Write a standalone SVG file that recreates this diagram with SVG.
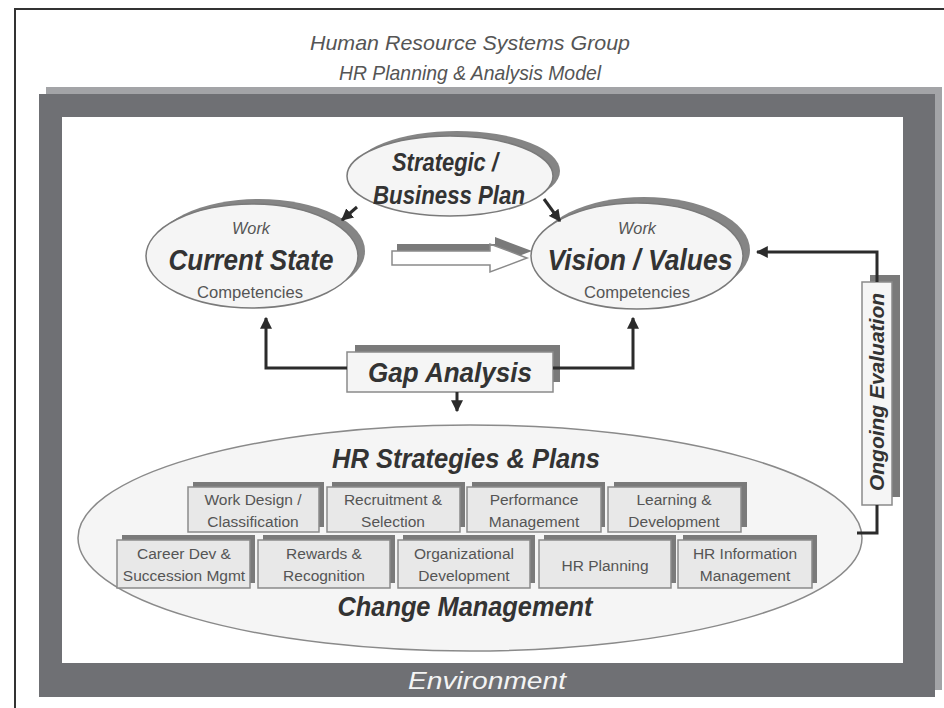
<svg xmlns="http://www.w3.org/2000/svg" width="944" height="708" viewBox="0 0 944 708">
<defs>
<marker id="ah" viewBox="0 0 10 10" refX="9" refY="5" markerWidth="4" markerHeight="4" orient="auto" markerUnits="strokeWidth">
<path d="M0,0 L10,5 L0,10 z" fill="#2b2b2b"/>
</marker>
<style>
.ttl{font-family:"Liberation Sans",Arial,sans-serif;font-style:italic;font-size:21px;fill:#555;text-anchor:middle}
.big{font-family:"Liberation Sans",Arial,sans-serif;font-style:italic;font-weight:bold;fill:#333;text-anchor:middle}
.sm{font-family:"Liberation Sans",Arial,sans-serif;font-size:16px;fill:#555;text-anchor:middle}
.wk{font-family:"Liberation Sans",Arial,sans-serif;font-style:italic;font-size:16px;fill:#555;text-anchor:middle}
.ell{fill:#f5f5f5;stroke:#7a7a7a;stroke-width:1.5}
.esh{fill:#858585}
.box{fill:#e8e8e8;stroke:#8a8a8a;stroke-width:1.5}
.bsh{fill:#7a7a7a}
.bt{font-family:"Liberation Sans",Arial,sans-serif;font-size:15.5px;fill:#555;text-anchor:middle}
.con{fill:none;stroke:#2b2b2b;stroke-width:3}
</style>
</defs>
<rect width="944" height="708" fill="#ffffff"/>
<path d="M15,708 L15,9 L944,9" fill="none" stroke="#333" stroke-width="2"/>
<text class="ttl" x="470" y="50" textLength="320" lengthAdjust="spacingAndGlyphs">Human Resource Systems Group</text>
<text class="ttl" x="470" y="80" textLength="262" lengthAdjust="spacingAndGlyphs">HR Planning &amp; Analysis Model</text>

<g id="environment">
<rect x="46" y="87" width="896" height="603" fill="#a3a4a7"/>
<rect x="39" y="94" width="896" height="603" fill="#6f7074"/>
<rect x="62" y="117" width="841" height="546" fill="#ffffff"/>
<text class="big" x="487" y="689" font-size="24" style="fill:#f4f4f4;font-weight:normal" textLength="158" lengthAdjust="spacingAndGlyphs">Environment</text>
</g>

<g id="strategic">
<ellipse class="esh" cx="457" cy="171" rx="103" ry="40"/>
<ellipse class="ell" cx="450" cy="176" rx="103" ry="40"/>
<text class="big" x="445" y="171" font-size="26" textLength="106" lengthAdjust="spacingAndGlyphs">Strategic /</text>
<text class="big" x="449" y="204" font-size="26" textLength="152" lengthAdjust="spacingAndGlyphs">Business Plan</text>
</g>

<g id="current">
<ellipse class="esh" cx="259" cy="251" rx="106" ry="52"/>
<ellipse class="ell" cx="252" cy="256" rx="106" ry="52"/>
<text class="wk" x="251" y="234" textLength="38" lengthAdjust="spacingAndGlyphs">Work</text>
<text class="big" x="251" y="270" font-size="29" textLength="165" lengthAdjust="spacingAndGlyphs">Current State</text>
<text class="sm" x="250" y="298" font-size="17" textLength="106" lengthAdjust="spacingAndGlyphs">Competencies</text>
</g>

<g id="vision">
<ellipse class="esh" cx="644" cy="250" rx="106" ry="53"/>
<ellipse class="ell" cx="637" cy="256" rx="106" ry="53"/>
<text class="wk" x="637" y="234" textLength="38" lengthAdjust="spacingAndGlyphs">Work</text>
<text class="big" x="640" y="270" font-size="29" textLength="185" lengthAdjust="spacingAndGlyphs">Vision / Values</text>
<text class="sm" x="637" y="298" font-size="17" textLength="106" lengthAdjust="spacingAndGlyphs">Competencies</text>
</g>

<g id="transition-arrow">
<polygon points="397,244 495,244 495,237 532,251 495,265 495,258 397,258" fill="#7a7a7a"/>
<polygon points="392,251 490,251 490,244 527,258 490,272 490,265 392,265" fill="#ffffff" stroke="#8a8a8a" stroke-width="1.5"/>
</g>

<g id="gap">
<rect class="bsh" x="355" y="345" width="205" height="37"/>
<rect x="347" y="352" width="206" height="40" fill="#f5f5f5" stroke="#8a8a8a" stroke-width="1.5"/>
<text class="big" x="450" y="382" font-size="27" textLength="164" lengthAdjust="spacingAndGlyphs">Gap Analysis</text>
</g>

<g id="hr-strategies">
<ellipse cx="470" cy="538" rx="392" ry="113" fill="#f5f5f5" stroke="#8a8a8a" stroke-width="1.5"/>
<text class="big" x="466" y="468" font-size="27" textLength="268" lengthAdjust="spacingAndGlyphs">HR Strategies &amp; Plans</text>
<text class="big" x="465" y="616" font-size="27" textLength="255" lengthAdjust="spacingAndGlyphs">Change Management</text>
</g>

<g id="box-work-design">
<rect class="bsh" x="193" y="482" width="131" height="45"/>
<rect class="box" x="188" y="487" width="131" height="45"/>
<text class="bt" x="253" y="505">Work Design /</text>
<text class="bt" x="253" y="527">Classification</text>
</g>
<g id="box-recruitment">
<rect class="bsh" x="332" y="482" width="133" height="45"/>
<rect class="box" x="327" y="487" width="133" height="45"/>
<text class="bt" x="393" y="505">Recruitment &amp;</text>
<text class="bt" x="393" y="527">Selection</text>
</g>
<g id="box-performance">
<rect class="bsh" x="472" y="482" width="133" height="45"/>
<rect class="box" x="467" y="487" width="134" height="45"/>
<text class="bt" x="534" y="505">Performance</text>
<text class="bt" x="534" y="527">Management</text>
</g>
<g id="box-learning">
<rect class="bsh" x="614" y="482" width="133" height="45"/>
<rect class="box" x="608" y="487" width="133" height="45"/>
<text class="bt" x="674" y="505">Learning &amp;</text>
<text class="bt" x="674" y="527">Development</text>
</g>

<g id="box-career">
<rect class="bsh" x="122" y="535" width="133" height="48"/>
<rect class="box" x="117" y="540" width="133" height="48"/>
<text class="bt" x="184" y="559">Career Dev &amp;</text>
<text class="bt" x="184" y="581">Succession Mgmt</text>
</g>
<g id="box-rewards">
<rect class="bsh" x="263" y="535" width="132" height="48"/>
<rect class="box" x="258" y="540" width="132" height="48"/>
<text class="bt" x="324" y="559">Rewards &amp;</text>
<text class="bt" x="324" y="581">Recognition</text>
</g>
<g id="box-org-dev">
<rect class="bsh" x="403" y="535" width="132" height="48"/>
<rect class="box" x="398" y="540" width="132" height="48"/>
<text class="bt" x="464" y="559">Organizational</text>
<text class="bt" x="464" y="581">Development</text>
</g>
<g id="box-hr-planning">
<rect class="bsh" x="544" y="535" width="132" height="48"/>
<rect class="box" x="539" y="540" width="132" height="48"/>
<text class="bt" x="605" y="571">HR Planning</text>
</g>
<g id="box-hris">
<rect class="bsh" x="683" y="535" width="134" height="48"/>
<rect class="box" x="678" y="540" width="134" height="48"/>
<text class="bt" x="745" y="559">HR Information</text>
<text class="bt" x="745" y="581">Management</text>
</g>

<g id="ongoing">
<rect class="bsh" x="870" y="275" width="30" height="222"/>
<rect x="862" y="282" width="30" height="223" fill="#f5f5f5" stroke="#8a8a8a" stroke-width="1.5"/>
<text class="big" transform="translate(884,392) rotate(-90)" x="0" y="0" font-size="21" textLength="198" lengthAdjust="spacingAndGlyphs">Ongoing Evaluation</text>
</g>

<g id="connectors">
<line class="con" x1="357" y1="207" x2="342" y2="220" stroke-width="2.5" marker-end="url(#ah)"/>
<line class="con" x1="544" y1="199" x2="560" y2="221" stroke-width="2.5" marker-end="url(#ah)"/>
<polyline class="con" points="347,368 266,368 266,318" marker-end="url(#ah)"/>
<polyline class="con" points="553,368 633,368 633,318" marker-end="url(#ah)"/>
<line class="con" x1="457" y1="392" x2="457" y2="411" marker-end="url(#ah)"/>
<polyline class="con" points="877,282 877,252 757,252" marker-end="url(#ah)"/>
<polyline class="con" points="877,505 877,533 857,533"/>
</g>
</svg>
